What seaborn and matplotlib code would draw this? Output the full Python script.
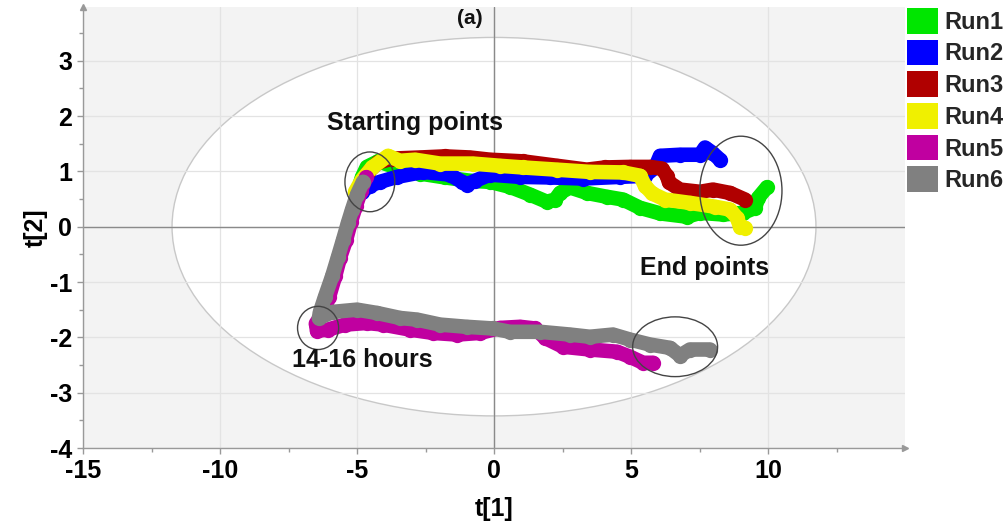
import matplotlib
matplotlib.use("Agg")
import matplotlib.pyplot as plt
from matplotlib.patches import Ellipse, Patch
import pandas as pd
import seaborn as sns

# ---- score trajectories (t[1], t[2]) for each batch run ----
runs = ["Run1", "Run2", "Run3", "Run4", "Run5", "Run6"]
run_colors = ["#00e600", "#0000ff", "#b00000", "#f0f000", "#c000a0", "#808080"]

run1_t1 = [-4.96, -4.82, -4.64, -4.23, -3.61, -2.70, -1.79, -0.88, -0.15, 0.58, 1.31,
           1.93, 2.23, 2.41, 2.77, 3.39, 4.12, 4.71, 5.33, 6.06, 7.04, 7.52, 8.36,
           9.09, 9.53, 9.64, 9.96]
run1_t2 = [0.67, 0.89, 1.08, 1.18, 1.08, 0.96, 0.89, 0.83, 0.81, 0.72, 0.58,
           0.45, 0.49, 0.61, 0.71, 0.61, 0.54, 0.49, 0.34, 0.24, 0.18, 0.25, 0.22,
           0.25, 0.34, 0.52, 0.71]

run2_t1 = [-4.82, -4.53, -4.16, -3.54, -2.59, -1.61, -1.17, -0.99, -0.69, -0.15, 0.95,
           2.04, 3.25, 4.60, 5.51, 5.88, 6.06, 6.79, 7.52, 7.70, 7.96, 8.25]
run2_t2 = [0.63, 0.74, 0.81, 0.90, 0.99, 0.94, 0.81, 0.76, 0.83, 0.94, 0.90,
           0.89, 0.87, 0.90, 0.92, 1.07, 1.28, 1.30, 1.30, 1.43, 1.34, 1.21]

run3_t1 = [-4.89, -4.60, -4.23, -3.72, -2.70, -1.79, -0.88, -0.15, 1.06, 2.30, 3.39,
           4.05, 4.96, 5.69, 6.13, 6.31, 6.39, 6.79, 7.52, 7.99, 8.61, 9.16]
run3_t2 = [0.76, 0.98, 1.16, 1.23, 1.25, 1.27, 1.25, 1.21, 1.18, 1.10, 1.03,
           1.07, 1.08, 1.08, 1.05, 0.92, 0.80, 0.67, 0.63, 0.67, 0.61, 0.49]

run4_t1 = [-5.07, -4.82, -4.45, -3.87, -3.43, -2.88, -1.97, -0.77, 0.22, 1.06, 2.30,
           3.50, 4.71, 5.33, 5.51, 5.77, 6.24, 7.15, 8.07, 8.61, 8.87, 8.98, 9.16]
run4_t2 = [0.63, 0.85, 1.07, 1.28, 1.19, 1.21, 1.14, 1.14, 1.10, 1.07, 1.03,
           0.99, 0.98, 0.92, 0.74, 0.60, 0.49, 0.43, 0.36, 0.31, 0.16, 0.00, -0.02]

run5_t1 = [-4.67, -4.85, -5.04, -5.22, -5.40, -5.62, -5.80, -6.02, -6.24, -6.50, -6.46,
           -6.06, -5.44, -4.64, -4.05, -3.07, -2.23, -1.35, -0.51, 0.22, 0.95, 1.50,
           1.86, 2.52, 3.50, 4.49, 4.96, 5.44, 5.80]
run5_t2 = [0.89, 0.65, 0.38, 0.09, -0.24, -0.56, -0.90, -1.27, -1.56, -1.75, -1.88,
           -1.86, -1.77, -1.74, -1.77, -1.86, -1.92, -1.95, -1.92, -1.83, -1.81, -1.84,
           -2.01, -2.17, -2.22, -2.26, -2.35, -2.46, -2.46]

run6_t1 = [-4.78, -5.00, -5.18, -5.33, -5.51, -5.69, -5.91, -6.17, -6.35, -6.39, -5.88,
           -5.00, -4.27, -3.43, -2.81, -1.97, -0.99, -0.04, 0.58, 1.68, 2.77, 3.50,
           4.34, 4.96, 5.69, 6.42, 6.79, 7.15, 7.88]
run6_t2 = [0.81, 0.58, 0.31, 0.07, -0.24, -0.54, -0.90, -1.27, -1.54, -1.65, -1.54,
           -1.50, -1.56, -1.65, -1.68, -1.77, -1.81, -1.84, -1.90, -1.90, -1.95, -1.99,
           -1.95, -2.04, -2.13, -2.19, -2.33, -2.22, -2.22]

t1_series = [run1_t1, run2_t1, run3_t1, run4_t1, run5_t1, run6_t1]
t2_series = [run1_t2, run2_t2, run3_t2, run4_t2, run5_t2, run6_t2]

x_ticks = [-15, -10, -5, 0, 5, 10]
y_ticks = [-4, -3, -2, -1, 0, 1, 2, 3]

frames = []
for name, t1, t2 in zip(runs, t1_series, t2_series):
    frames.append(pd.DataFrame({"run": name, "t1": t1, "t2": t2, "step": range(len(t1))}))
df = pd.concat(frames, ignore_index=True)

sns.set_theme(style="white")
plt.rcParams["font.family"] = ["Liberation Sans", "DejaVu Sans"]
plt.rcParams["font.weight"] = "bold"
plt.rcParams["axes.unicode_minus"] = False

fig = plt.figure(figsize=(10.08, 5.22), dpi=100)
ax = fig.add_axes([83 / 1008, 1 - 448 / 522, (905 - 83) / 1008, (448 - 7) / 522])
ax.set_facecolor("#f3f3f3")

# Hotelling T2 confidence ellipse
ax.add_patch(Ellipse((0, 0), 23.5, 6.84, facecolor="white", edgecolor="#c8c8c8",
                     lw=1.0, zorder=0.2))
ax.set_axisbelow(True)
ax.grid(True, which="major", color="#e3e3e3", lw=0.9)
ax.axhline(0, color="#8a8a8a", lw=1.0, zorder=0.6)
ax.axvline(0, color="#8a8a8a", lw=1.0, zorder=0.6)

sns.lineplot(data=df, x="t1", y="t2", hue="run", hue_order=runs, palette=run_colors,
             sort=False, estimator=None, legend=False, ax=ax, linewidth=10.5,
             marker="o", markersize=11, markeredgewidth=0,
             solid_capstyle="round", solid_joinstyle="round", zorder=2)

# highlighted regions
for (cx, cy), w, h in [((-4.53, 0.81), 1.82, 1.08), ((9.01, 0.65), 3.0, 1.97),
                       ((-6.42, -1.83), 1.5, 0.78), ((6.61, -2.17), 3.1, 1.08)]:
    ax.add_patch(Ellipse((cx, cy), w, h, facecolor="none", edgecolor="#444444",
                         lw=1.0, zorder=3))

ax.text(-6.09, 1.88, "Starting points", fontsize=18, ha="left", va="center", color="#111111")
ax.text(5.33, -0.74, "End points", fontsize=18, ha="left", va="center", color="#111111")
ax.text(-7.37, -2.41, "14-16 hours", fontsize=18, ha="left", va="center", color="#111111")
ax.text(-0.88, 3.76, "(a)", fontsize=15, ha="center", va="center", color="#111111")

ax.set_xlim(-15, 15)
ax.set_ylim(-4, 3.97)
ax.set_xticks(x_ticks)
ax.set_yticks(y_ticks)
ax.set_xticks([v + 2.5 for v in range(-15, 15, 5)], minor=True)
ax.set_yticks([v + 0.5 for v in range(-4, 4)], minor=True)
ax.tick_params(which="major", direction="out", length=4, width=1, color="#999999",
               labelsize=18, labelcolor="black", pad=4, bottom=True, left=True)
ax.tick_params(which="minor", direction="out", length=3, width=1, color="#999999",
               bottom=True, left=True)

for side in ["top", "right"]:
    ax.spines[side].set_visible(False)
for side in ["left", "bottom"]:
    ax.spines[side].set_color("#999999")
    ax.spines[side].set_linewidth(1.0)
ax.plot(1, 0, ">", transform=ax.transAxes, clip_on=False, color="#999999", ms=5)
ax.plot(0, 1, "^", transform=ax.transAxes, clip_on=False, color="#999999", ms=5)

ax.set_xlabel("t[1]", fontsize=18, fontweight="bold", color="black")
ax.set_ylabel("t[2]", fontsize=18, fontweight="bold", color="black")
ax.xaxis.set_label_coords(0.5, -0.112)
ax.yaxis.set_label_coords(-0.043, 0.5)

handles = [Patch(facecolor=c, edgecolor="none", label=r) for r, c in zip(runs, run_colors)]
fig.legend(handles=handles, loc="upper left", bbox_to_anchor=(907 / 1008, 1 - 8 / 522),
           frameon=False, fontsize=17, handlelength=1.3, handleheight=1.3,
           labelspacing=0.25, handletextpad=0.3, borderpad=0, borderaxespad=0)

fig.savefig("out.png", dpi=100, facecolor="white")
